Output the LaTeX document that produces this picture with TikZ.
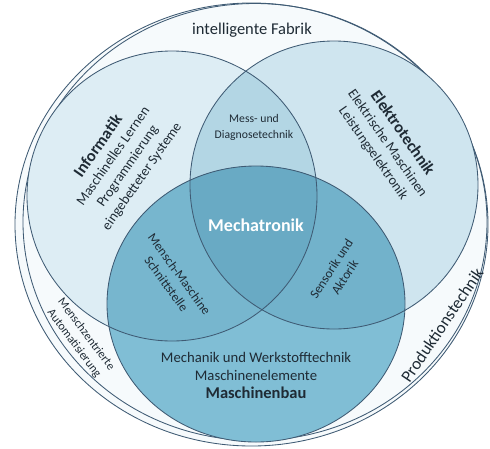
\documentclass[tikz,border=0pt]{standalone}
\usepackage{fontspec}
\setmainfont{Carlito}
\definecolor{cOut}{HTML}{F6FAFC}
\definecolor{cInf}{HTML}{DDEDF4}
\definecolor{cEl}{HTML}{CFE5EF}
\definecolor{cIE}{HTML}{B3D6E4}
\definecolor{cMB}{HTML}{80BED5}
\definecolor{cIM}{HTML}{77B6CE}
\definecolor{cEM}{HTML}{72B2CB}
\definecolor{cC}{HTML}{69AAC4}
\definecolor{cLine}{HTML}{3F5B74}
\definecolor{cTxt}{HTML}{1F2B35}
\tikzset{
  rim/.style={draw=cLine, line width=0.85pt},
  lbl/.style={text=cTxt, align=center, inner sep=0pt},
  fs/.style 2 args={font=\fontsize{#1}{#2}\selectfont},
}
\begin{document}
\begin{tikzpicture}[x=1pt,y=-1pt]
\useasboundingbox (0,0) rectangle (490,448);
\fill[white] (0,0) rectangle (490,448);
% outer ring (two strokes)
\fill[cOut] (251.5,224.5) ellipse [x radius=236.5, y radius=221.5];
\draw[rim] (251.5,224.5) ellipse [x radius=236.5, y radius=221.5];
\draw[rim] (255,222) ellipse [x radius=232, y radius=218.5];
% circle fills
\fill[cInf] (172,196) circle [radius=145];
\fill[cEl] (334,185) circle [radius=144];
\begin{scope}
  \clip (172,196) circle [radius=145];
  \fill[cIE] (334,185) circle [radius=144];
\end{scope}
\fill[cMB] (256,304) ellipse [x radius=149, y radius=138];
\begin{scope}
  \clip (172,196) circle [radius=145];
  \fill[cIM] (256,304) ellipse [x radius=149, y radius=138];
\end{scope}
\begin{scope}
  \clip (334,185) circle [radius=144];
  \fill[cEM] (256,304) ellipse [x radius=149, y radius=138];
\end{scope}
\begin{scope}
  \clip (172,196) circle [radius=145];
  \clip (334,185) circle [radius=144];
  \fill[cC] (256,304) ellipse [x radius=149, y radius=138];
\end{scope}
% circle outlines
\draw[rim] (172,196) circle [radius=145];
\draw[rim] (334,185) circle [radius=144];
\draw[rim] (256,304) ellipse [x radius=149, y radius=138];
% texts
\node[lbl, fs={16.5}{20}] (fab) at (252,30) {intelligente Fabrik};
\node[lbl, fs={11.7}{16}] (mess) at (254,127) {Mess- und\\Diagnosetechnik};
\node[lbl, text=white, font=\bfseries\fontsize{18}{22}\selectfont] (mech) at (256,225) {Mechatronik};
\node[lbl, fs={14}{17.5}, rotate=55] (inf) at (120,161) {{\bfseries\fontsize{16.5}{19}\selectfont Informatik}\\Maschinelles Lernen\\Programmierung\\eingebetteter Systeme};
\node[lbl, fs={14}{17.5}, rotate=-55] (el) at (388,143) {{\bfseries\fontsize{16.5}{19}\selectfont Elektrotechnik}\\Elektrische Maschinen\\Leistungselektronik};
\node[lbl, fs={13}{16}, rotate=-54] (mm) at (173,279) {Mensch-Maschine\\Schnittstelle};
\node[lbl, fs={13}{16}, rotate=57] (sa) at (338,273) {Sensorik und\\Aktorik};
\node[lbl, fs={14.7}{18}] (mb) at (256,375) {Mechanik und Werkstofftechnik\\Maschinenelemente\\{\bfseries\fontsize{16.5}{19}\selectfont Maschinenbau}};
\node[lbl, fs={12}{15}, rotate=-53] (ma) at (80,339) {Menschzentrierte\\Automatisierung};
\node[lbl, fs={17}{20}, rotate=56] (pt) at (442,325) {Produktionstechnik};
\end{tikzpicture}
\end{document}
